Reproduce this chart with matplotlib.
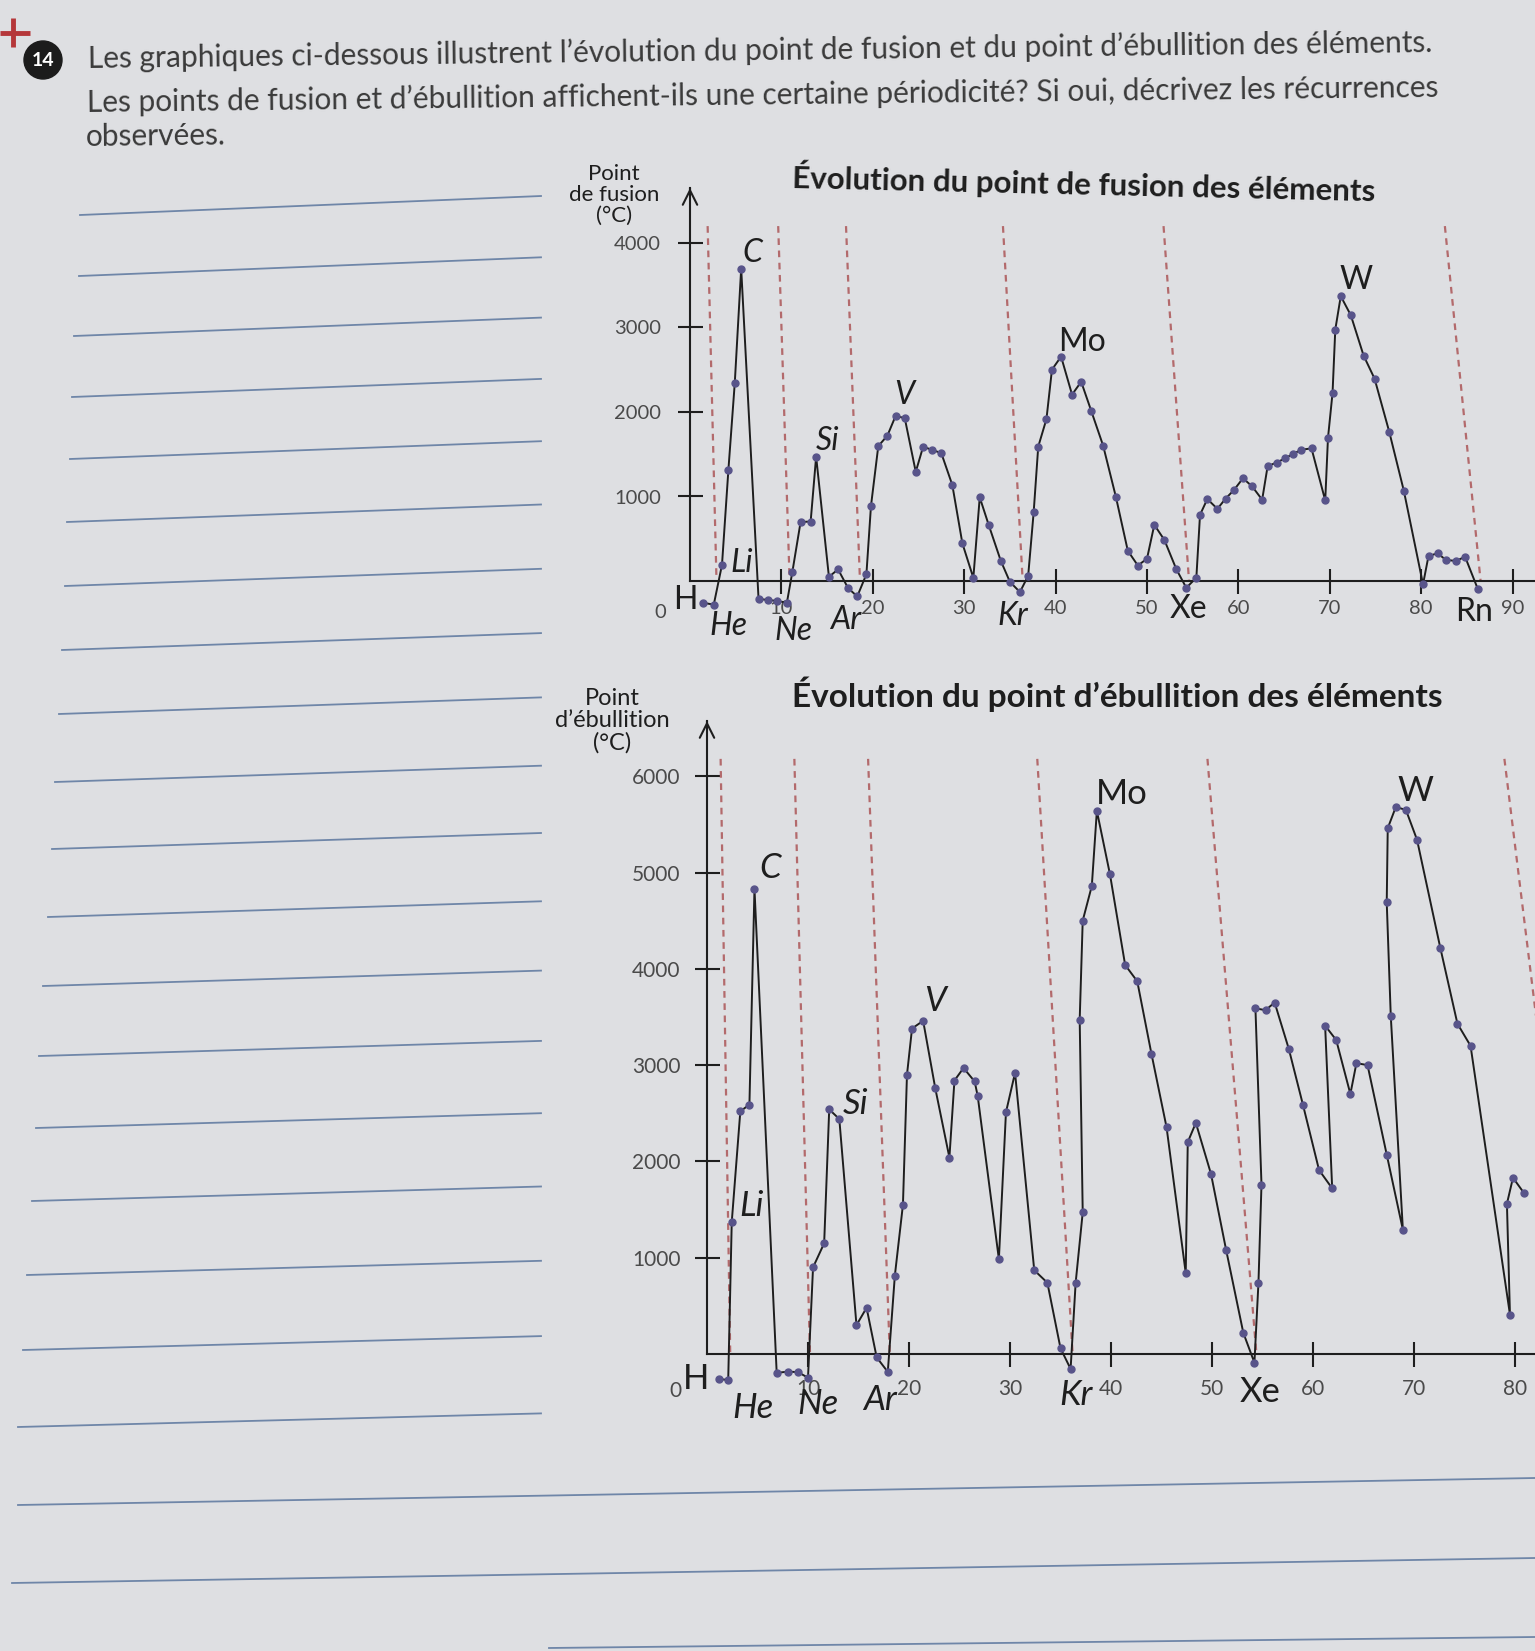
import matplotlib.pyplot as plt
from matplotlib.patches import Circle

# symboles des éléments (numéro atomique 1 à 86)
symboles = ['H', 'He',
            'Li', 'Be', 'B', 'C', 'N', 'O', 'F', 'Ne',
            'Na', 'Mg', 'Al', 'Si', 'P', 'S', 'Cl', 'Ar',
            'K', 'Ca', 'Sc', 'Ti', 'V', 'Cr', 'Mn', 'Fe', 'Co', 'Ni', 'Cu', 'Zn', 'Ga', 'Ge', 'As', 'Se', 'Br', 'Kr',
            'Rb', 'Sr', 'Y', 'Zr', 'Nb', 'Mo', 'Tc', 'Ru', 'Rh', 'Pd', 'Ag', 'Cd', 'In', 'Sn', 'Sb', 'Te', 'I', 'Xe',
            'Cs', 'Ba', 'La', 'Ce', 'Pr', 'Nd', 'Pm', 'Sm', 'Eu', 'Gd', 'Tb', 'Dy', 'Ho', 'Er', 'Tm', 'Yb', 'Lu',
            'Hf', 'Ta', 'W', 'Re', 'Os', 'Ir', 'Pt', 'Au', 'Hg', 'Tl', 'Pb', 'Bi', 'Po', 'At', 'Rn']

fusion = [-258, -280,
          191, 1314, 2346, 3697, -211, -225, -235, -257,
          108, 698, 704, 1472, 49, 138, -85, -182,
          80, 888, 1596, 1721, 1955, 1926, 1292, 1587, 1553, 1512, 1136, 446, 37, 990, 657, 240, -10, -131,
          63, 813, 1590, 1917, 2501, 2656, 2206, 2358, 2013, 1602, 994, 358, 183, 264, 665, 486, 142, -81,
          40, 783, 970, 854, 975, 1075, 1216, 1120, 962, 1360, 1402, 1452, 1505, 1554, 1569, 953, 1692,
          2225, 2975, 3371, 3145, 2667, 2394, 1767, 1068, -39, 297, 327, 250, 237, 287, -96]
# abscisses des points telles que tracées sur le premier graphique
z_fusion = [1.45, 2.6,
            3.5, 4.2, 4.9, 5.6, 7.5, 8.5, 9.5, 10.6,
            11.2, 12.1, 13.2, 13.8, 15.2, 16.2, 17.3, 18.3,
            19.3, 19.8, 20.6, 21.6, 22.5, 23.5, 24.7, 25.5, 26.5, 27.5, 28.7, 29.8, 31.0, 31.7, 32.7, 34.0, 35.0, 36.1,
            37.0, 37.6, 38.1, 39.0, 39.6, 40.6, 41.8, 42.8, 43.9, 45.2, 46.6, 47.9, 49.0, 50.0, 50.8, 51.9, 53.2, 54.3,
            55.4, 55.8, 56.6, 57.7, 58.6, 59.5, 60.5, 61.5, 62.6, 63.2, 64.2, 65.1, 66.0, 66.9, 68.0, 69.5, 69.8,
            70.3, 70.6, 71.2, 72.3, 73.7, 74.9, 76.5, 78.1, 80.2, 80.8, 81.8, 82.7, 83.8, 84.8, 86.2]

ebullition = [-260, -270,
              1370, 2520, 2590, 4830, -196, -183, -188, -246,
              900, 1150, 2540, 2440, 300, 480, -35, -186,
              815, 1550, 2900, 3380, 3460, 2760, 2040, 2840, 2970, 2830, 2680, 985, 2510, 2920, 870, 740, 60, -155,
              740, 1470, 3470, 4500, 4860, 5640, 4980, 4040, 3870, 3120, 2355, 840, 2200, 2400, 1870, 1080, 220, -90,
              740, 1760, 3590, 3570, 3650, 3170, 2590, 1910, 1720, 3410, 3260, 2700, 3020, 3000, 2070, 1290, 3510,
              4690, 5460, 5680, 5650, 5340, 4220, 3430, 3200, 410, 1560, 1830, 1670]
z_ebullition = [1.2, 2.1,
                2.45, 3.3, 4.2, 4.7, 6.9, 8.0, 9.0, 10.0,
                10.5, 11.6, 12.1, 13.1, 14.8, 15.8, 16.8, 17.9,
                18.6, 19.4, 19.8, 20.3, 21.4, 22.6, 24.0, 24.5, 25.4, 26.5, 26.8, 28.9, 29.6, 30.5, 32.4, 33.7, 35.0, 36.0,
                36.5, 37.2, 36.9, 37.2, 38.1, 38.6, 39.9, 41.4, 42.6, 44.0, 45.5, 47.4, 47.6, 48.4, 49.9, 51.4, 53.1, 54.2,
                54.6, 54.9, 54.3, 55.3, 56.2, 57.6, 59.0, 60.6, 61.9, 61.2, 62.3, 63.7, 64.3, 65.4, 67.3, 68.9, 67.7,
                67.3, 67.4, 68.2, 69.2, 70.3, 72.6, 74.3, 75.6, 79.5, 79.2, 79.8, 80.9]

gaz_nobles = ['He', 'Ne', 'Ar', 'Kr', 'Xe', 'Rn']
num_gaz_nobles = [2, 10, 18, 36, 54, 86]

xticks_fusion = [10, 20, 30, 40, 50, 60, 70, 80, 90]
yticks_fusion = [1000, 2000, 3000, 4000]
xticks_eb = [10, 20, 30, 40, 50, 60, 70, 80]
yticks_eb = [1000, 2000, 3000, 4000, 5000, 6000]

question = [
    "Les graphiques ci-dessous illustrent l’évolution du point de fusion et du point d’ébullition des éléments.",
    "Les points de fusion et d’ébullition affichent-ils une certaine périodicité? Si oui, décrivez les récurrences",
    "observées.",
]

PAPIER = '#dedfe2'
ENCRE = '#1e1e1e'
GRIS = '#4a4a4a'
POINT = '#58548a'
ROUGE = '#b36a6c'
BLEU = '#6f86a8'

plt.rcParams['font.family'] = ['Lato', 'DejaVu Sans']

W, H = 1535, 1651
fig = plt.figure(figsize=(W / 100, H / 100), dpi=100, facecolor=PAPIER)

# calque "page" en pixels pour le texte et les lignes d'écriture
page = fig.add_axes([0, 0, 1, 1])
page.set_xlim(0, W)
page.set_ylim(H, 0)
page.axis('off')

page.plot([0, 30], [33, 33], color='#b5373a', lw=3.5, solid_capstyle='butt')
page.plot([13, 13], [18, 47], color='#b5373a', lw=3.5, solid_capstyle='butt')
page.add_patch(Circle((43, 60), 19, color='#1c1c1c'))
page.text(43, 61, '14', ha='center', va='center', color='white', fontsize=14, weight='bold')

for i, (txt, y, rot) in enumerate(zip(question, [68, 112, 146], [0.68, 0.64, 0.6])):
    page.text(88 - i, y, txt, ha='left', va='baseline', fontsize=21.5, color='#3a3a3a',
              rotation=rot, rotation_mode='anchor')

# lignes d'écriture
lignes_y = [215, 276, 336, 397, 459, 522, 586, 650, 714, 782, 849, 917, 986, 1056, 1128, 1201, 1275, 1350, 1427]
lignes_x = [80, 79, 74, 72, 70, 67, 65, 62, 59, 55, 52, 48, 43, 39, 36, 32, 27, 23, 18]
for i, (x, y) in enumerate(zip(lignes_x, lignes_y)):
    page.plot([x, 541], [y, y - 19 + 0.3 * i], color=BLEU, lw=1.3)
page.plot([18, W], [1505, 1478], color=BLEU, lw=1.3)
page.plot([12, W], [1583, 1558], color=BLEU, lw=1.3)
page.plot([549, W], [1648, 1637], color=BLEU, lw=1.3)


def graphique(x0, y0, sx, sy, haut, bas, z, valeurs, fleche, xticks, yticks,
              fs_ticks, pad_x, pad_y, etiquettes, fs_sym, zero, tirets):
    ax = fig.add_axes([x0 / W, 1 - bas / H, (W - x0) / W, (bas - haut) / H])
    ax.set_xlim(0, (W - x0) / sx)
    ax.set_ylim(-(bas - y0) / sy, (y0 - haut) / sy)
    ax.patch.set_visible(False)
    ax.spines['top'].set_visible(False)
    ax.spines['right'].set_visible(False)
    ax.spines['bottom'].set_position(('data', 0))
    ax.spines['left'].set_bounds(0, fleche)
    for s in ['left', 'bottom']:
        ax.spines[s].set_linewidth(1.5)
        ax.spines[s].set_color(ENCRE)
    ax.annotate('', xy=(0, fleche), xytext=(0, fleche - 1),
                arrowprops=dict(arrowstyle='->', lw=1.5, color=ENCRE, mutation_scale=26,
                                shrinkA=0, shrinkB=0), annotation_clip=False)

    ax.set_xticks(xticks)
    ax.set_yticks(yticks)
    ax.tick_params(direction='inout', length=18, width=1.5, color=ENCRE,
                   labelsize=fs_ticks, labelcolor=GRIS)
    ax.tick_params(axis='x', pad=pad_x)
    ax.tick_params(axis='y', pad=pad_y)

    # limites des périodes (tirets)
    for nom, num in zip(gaz_nobles, num_gaz_nobles):
        xb = z[num - 1] if num <= len(z) else num
        ax.plot([xb - tirets[0] - tirets[1] * num, xb + tirets[2]], [tirets[3], 0],
                color=ROUGE, lw=1.6, ls=(0, (3, 2.5)), zorder=2)

    ax.plot(z, valeurs, color=ENCRE, lw=1.4, marker='o', ms=5, mfc=POINT, mec=POINT, zorder=3)

    for sym, (dx, dy, style) in etiquettes.items():
        i = symboles.index(sym)
        ax.annotate(sym, xy=(z[i], valeurs[i]), xytext=(dx, dy), textcoords='offset pixels',
                    ha='center', va='center', fontsize=fs_sym, fontstyle=style, color=ENCRE)
    ax.annotate('0', xy=(0, 0), xytext=zero, textcoords='offset pixels',
                ha='center', va='center', fontsize=fs_ticks, color=GRIS)
    return ax


etiq_fusion = {'H': (-18, 3, 'normal'), 'He': (15, -21, 'italic'), 'Li': (20, 2, 'italic'),
               'C': (11, 16, 'italic'), 'Ne': (7, -28, 'italic'), 'Si': (11, 16, 'italic'),
               'Ar': (-12, -24, 'italic'), 'V': (9, 21, 'italic'), 'Kr': (-7, -24, 'italic'),
               'Mo': (21, 15, 'normal'), 'Xe': (2, -21, 'normal'), 'W': (15, 16, 'normal'),
               'Rn': (-4, -23, 'normal')}
etiq_eb = {'H': (-23, 0, 'normal'), 'He': (25, -28, 'italic'), 'Li': (20, 16, 'italic'),
           'C': (16, 21, 'italic'), 'Ne': (10, -26, 'italic'), 'Si': (16, 15, 'italic'),
           'Ar': (-8, -28, 'italic'), 'V': (12, 20, 'italic'), 'Kr': (5, -26, 'italic'),
           'Mo': (25, 17, 'normal'), 'Xe': (6, -29, 'normal'), 'W': (20, 16, 'normal')}

graphique(690, 581, 9.14, 0.0845, 178, 625, z_fusion, fusion, 4651, xticks_fusion, yticks_fusion,
          14.5, 5, 12, etiq_fusion, 23, (-30, -31), (0.6, 0.035, 0.3, 4200))
graphique(707, 1354, 10.1, 0.0963, 705, 1425, z_ebullition, ebullition, 6573, xticks_eb, yticks_eb,
          15, 9, 10, etiq_eb, 25, (-32, -37), (0.6, 0.075, 0.2, 6180))

page.text(614, 195, 'Point\nde fusion\n(°C)', ha='center', va='center', fontsize=16,
          linespacing=1.08, color=ENCRE)
page.text(612, 721, 'Point\nd’ébullition\n(°C)', ha='center', va='center', fontsize=17,
          linespacing=1.07, color=ENCRE)
page.text(792, 176, 'Évolution du point de fusion des éléments', ha='left', va='center',
          fontsize=22.5, weight='bold', color=ENCRE, rotation=-1.3, rotation_mode='anchor')
page.text(792, 694, 'Évolution du point d’ébullition des éléments', ha='left', va='center',
          fontsize=24, weight='bold', color=ENCRE)

fig.savefig('out.png', dpi=100, facecolor=PAPIER)
